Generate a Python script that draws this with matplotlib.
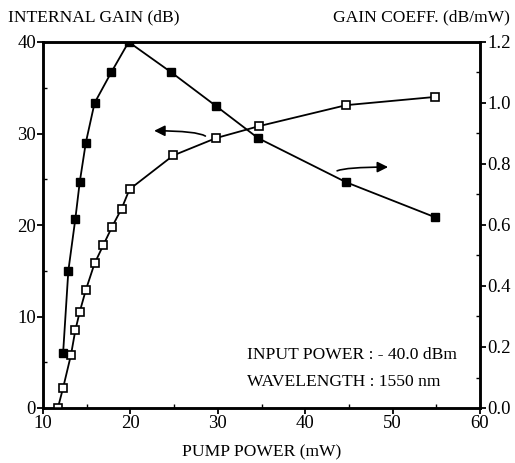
import numpy as np
import matplotlib.pyplot as plt
from matplotlib.ticker import MultipleLocator

# internal gain (open squares, left axis)
gain_power = [11.7, 12.3, 13.2, 13.7, 14.2, 14.9, 15.9, 16.9, 17.9, 19.0, 19.9, 24.9, 29.8, 34.7, 44.7, 54.9]
gain_db = [0.0, 2.2, 5.8, 8.5, 10.5, 12.9, 15.8, 17.8, 19.8, 21.8, 23.9, 27.6, 29.5, 30.8, 33.1, 34.0]

# gain coefficient (filled squares, right axis)
coeff_power = [12.3, 12.9, 13.7, 14.2, 14.9, 15.9, 17.8, 19.8, 24.7, 29.8, 34.6, 44.7, 54.9]
coeff_db_mw = [0.18, 0.45, 0.62, 0.74, 0.87, 1.0, 1.10, 1.2, 1.10, 0.99, 0.885, 0.74, 0.625]

left_ticks = [0, 10, 20, 30, 40]
right_ticks = [0.0, 0.2, 0.4, 0.6, 0.8, 1.0, 1.2]
x_ticks = [10, 20, 30, 40, 50, 60]

plt.rcParams['font.family'] = ['Liberation Serif', 'DejaVu Serif']

fig = plt.figure(figsize=(5.15, 4.63), dpi=100)
ax = fig.add_axes([43 / 515, 1 - 408 / 463, (480 - 43) / 515, (408 - 42) / 463])
ax2 = ax.twinx()

ax.plot(gain_power, gain_db, color='black', lw=1.3, marker='s', ms=5.5,
        mfc='white', mec='black', mew=1.2, zorder=3)
ax2.plot(coeff_power, coeff_db_mw, color='black', lw=1.3, marker='s', ms=5.5,
         mfc='black', mec='black', zorder=3)

ax.set_xlim(10, 60)
ax.set_ylim(0, 40)
ax2.set_ylim(0, 1.2)

ax.set_xticks(x_ticks)
ax.set_yticks(left_ticks)
ax2.set_yticks(right_ticks)
ax2.set_yticklabels(['%.1f' % t for t in right_ticks])
ax.yaxis.set_minor_locator(MultipleLocator(5))
ax2.yaxis.set_minor_locator(MultipleLocator(0.1))
ax.xaxis.set_minor_locator(MultipleLocator(5))

for a in (ax, ax2):
    for s in a.spines.values():
        s.set_linewidth(1.8)
    a.tick_params(which='major', direction='out', length=4, width=1.3, labelsize=13.5, pad=1)
    a.tick_params(which='minor', direction='in', length=3, width=1.0)

# arrows pointing at each curve's axis
ax.annotate('', xy=(22.4, 30.3), xytext=(28.8, 29.5),
            arrowprops=dict(arrowstyle='-|>', color='black', lw=1.2,
                            connectionstyle='angle3,angleA=110,angleB=0', mutation_scale=16))
ax2.annotate('', xy=(49.8, 0.79), xytext=(43.4, 0.772),
             arrowprops=dict(arrowstyle='-|>', color='black', lw=1.2,
                             connectionstyle='angle3,angleA=70,angleB=0', mutation_scale=16))

ax.text(33.3, 5.8, 'INPUT POWER : - 40.0 dBm', fontsize=12.6, va='center')
ax.text(33.3, 2.85, 'WAVELENGTH : 1550 nm', fontsize=12.6, va='center')

fig.text(8 / 515, 1 - 17 / 463, 'INTERNAL GAIN (dB)', fontsize=12.6, va='center', ha='left')
fig.text(510 / 515, 1 - 17 / 463, 'GAIN COEFF. (dB/mW)', fontsize=12.6, va='center', ha='right')
fig.text(262 / 515, 1 - 452 / 463, 'PUMP POWER (mW)', fontsize=12.6, va='center', ha='center')

fig.savefig('out.png', dpi=100)
